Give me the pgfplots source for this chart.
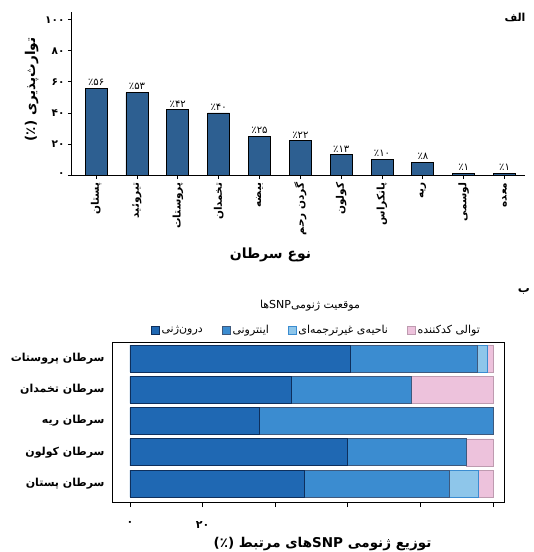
\documentclass[border=0pt]{standalone}
\usepackage{pgfplots}
\pgfplotsset{compat=1.18}
\usepackage{fontspec}
\setmainfont{DejaVu Sans}
\newfontfamily\fa[Script=Arabic]{DejaVu Sans}
\TeXXeTstate=1
\definecolor{topbar}{HTML}{2D5F91}
\definecolor{cA}{HTML}{1F68B3}
\definecolor{cB}{HTML}{3B8CD0}
\definecolor{cC}{HTML}{8EC6EA}
\definecolor{cD}{HTML}{EDC2DC}
\definecolor{navy}{HTML}{0E2F5C}
\begin{document}
\begin{tikzpicture}
\path[use as bounding box] (0,0) rectangle (534pt,-552pt);
% ---------- panel A ----------
\begin{axis}[
  at={(72pt,-175pt)}, anchor=south west, scale only axis,
  width=453pt, height=163pt,
  xmin=-0.59, xmax=10.5, ymin=0, ymax=105,
  axis lines=left, axis line style={-, line width=1pt},
  ybar, bar width=22pt,
  ytick={0,20,40,60,80,100}, yticklabels={۰,۲۰,۴۰,۶۰,۸۰,۱۰۰},
  xtick={0,...,10},
  xticklabels={{\beginR پستان\endR},{\beginR تیروئید\endR},{\beginR پروستات\endR},{\beginR تخمدان\endR},{\beginR بیضه\endR},{\beginR گردن رحم\endR},{\beginR کولون\endR},{\beginR پانکراس\endR},{\beginR ریه\endR},{\beginR لوسمی\endR},{\beginR معده\endR}},
  xticklabel style={rotate=90, anchor=east, font=\fa\fontsize{10.5}{11}\selectfont\bfseries},
  yticklabel style={font=\fa\fontsize{10.5}{11}\selectfont\bfseries},
  tick align=outside, tick style={black, line width=0.8pt}, major tick length=4pt,
  ylabel={(٪)~\beginR توارث‌پذیری\endR},
  ylabel style={font=\fa\fontsize{13.5}{14}\selectfont\bfseries, xshift=4pt},
  xlabel={\beginR نوع سرطان\endR},
  xlabel style={font=\fa\fontsize{14}{15}\selectfont\bfseries, xshift=-28pt, yshift=-6pt},
  nodes near coords, point meta=explicit symbolic,
  every node near coord/.append style={font=\fa\fontsize{10}{11}\selectfont, yshift=-1pt},
]
\addplot[fill=topbar, draw=black, line width=0.8pt] coordinates {
(0,56) [٪۵۶]
(1,53) [٪۵۳]
(2,42) [٪۴۲]
(3,40) [٪۴۰]
(4,25) [٪۲۵]
(5,22) [٪۲۲]
(6,13) [٪۱۳]
(7,10) [٪۱۰]
(8,8) [٪۸]
(9,1) [٪۱]
(10,1) [٪۱]
};
\end{axis}
\node[font=\fa\fontsize{11}{12}\selectfont\bfseries] at (515pt,-17pt) {\beginR الف\endR};
% ---------- panel B ----------
\node[font=\fa\fontsize{12}{13}\selectfont\bfseries] at (524pt,-291pt) {\beginR ب\endR};
\node[font=\fa\fontsize{11}{12}\selectfont] at (310pt,-306pt) {\beginR موقعیت ژنومی\beginL SNP\endL{}ها\endR};
\begin{axis}[
  at={(113pt,-502pt)}, anchor=south west, scale only axis,
  width=391pt, height=160pt,
  xmin=-4.68, xmax=103.03, ymin=0.41, ymax=5.53,
  xbar stacked, bar width=27pt,
  ytick={1,2,3,4,5},
  yticklabels={{\beginR سرطان پستان\endR},{\beginR سرطان کولون\endR},{\beginR سرطان ریه\endR},{\beginR سرطان تخمدان\endR},{\beginR سرطان پروستات\endR}},
  yticklabel style={font=\fa\fontsize{11}{12}\selectfont\bfseries},
  ytick style={draw=none},
  xtick={0,20,40,60,80,100}, xticklabels={۰,۲۰,,,,},
  xtick pos=lower, tick align=outside, major tick length=5pt,
  xtick style={black, line width=0.8pt},
  xticklabel style={font=\fa\fontsize{11}{12}\selectfont\bfseries, yshift=-11pt},
  axis line style={line width=1pt},
  xlabel={(٪)~\beginR توزیع ژنومی \beginL SNP\endL{}های مرتبط\endR},
  xlabel style={font=\fa\fontsize{13.5}{14}\selectfont\bfseries, xshift=14pt, yshift=-2pt},
  legend columns=4,
  legend style={at={(0.52,1.015)}, anchor=south, draw=none, fill=none,
    font=\fa\fontsize{11}{12}\selectfont,
    /tikz/every even column/.append style={column sep=17pt}},
  legend image code/.code={\draw[#1] (0pt,-4pt) rectangle (8pt,4pt);},
]
\addplot[fill=cA, draw=navy, line width=0.8pt] coordinates {(48,1) (60,2) (35.6,3) (44.5,4) (60.6,5)};
\addplot[fill=cB, draw=navy!80, line width=0.8pt] coordinates {(40,1) (32.7,2) (64.4,3) (33.1,4) (35,5)};
\addplot[fill=cC, draw=cB, line width=0.6pt] coordinates {(8,1) (0,2) (0,3) (0,4) (2.7,5)};
\addplot[fill=cD, draw=cD!80!black, line width=0.6pt] coordinates {(4,1) (7.3,2) (0,3) (22.4,4) (1.7,5)};
\legend{{\beginR درون‌ژنی\endR},{\beginR اینترونی\endR},{\beginR ناحیه‌ی غیرترجمه‌ای\endR},{\beginR توالی کدکننده\endR}}
\end{axis}
\end{tikzpicture}
\end{document}
